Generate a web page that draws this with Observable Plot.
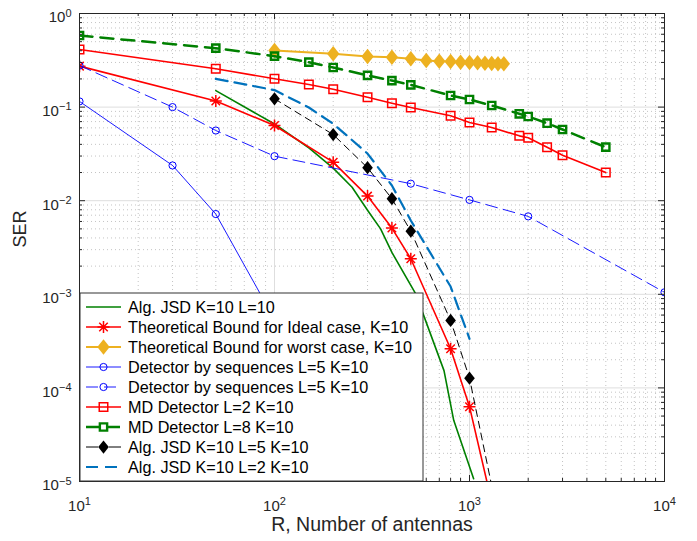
<!DOCTYPE html>
<html>
<head>
<meta charset="utf-8">
<script src="https://cdn.jsdelivr.net/npm/d3@7"></script>
<script src="https://cdn.jsdelivr.net/npm/@observablehq/plot@0.6"></script>
<style>
  body { margin: 0; background: #fff; }
  #chart { width: 697px; height: 541px; }
</style>
</head>
<body>
<div id="chart"></div>
<script>
// ---- Data: SER versus number of antennas R ----
const jsdL10R   = [50, 100, 150, 200, 250, 300, 350, 400, 530, 740, 830, 1050];
const jsdL10Ser = [0.150, 0.066, 0.0366, 0.0223, 0.0139, 0.0079, 0.0050, 0.0028, 0.00101, 1.53e-4, 4.5e-5, 1.07e-5];

const idealR   = [10, 50, 100, 200, 300, 400, 500, 800, 1000, 1300];
const idealSer = [0.274, 0.116, 0.0636, 0.0258, 0.0112, 0.0051, 0.0024, 2.62e-4, 6.3e-5, 6e-6];

const worstR   = [100, 200, 300, 400, 500, 600, 700, 800, 900, 1000, 1100, 1200, 1300, 1400, 1500];
const worstSer = [0.402, 0.371, 0.347, 0.341, 0.328, 0.315, 0.309, 0.307, 0.302, 0.299, 0.297, 0.294, 0.292, 0.291, 0.290];

const seqSolidR   = [10, 30, 50, 100];
const seqSolidSer = [0.115, 0.0238, 0.0072, 5.4e-4];

const seqDashR   = [10, 30, 50, 100, 500, 1000, 2000, 10000];
const seqDashSer = [0.278, 0.100, 0.0562, 0.0299, 0.0152, 0.0102, 0.0068, 0.00105];

const mdR     = [10, 50, 100, 150, 200, 300, 400, 500, 800, 1000, 1300, 1800, 2000, 2500, 3000, 5000];
const mdL2Ser = [0.412, 0.257, 0.201, 0.174, 0.155, 0.1275, 0.110, 0.099, 0.0807, 0.0685, 0.0605, 0.0493, 0.047, 0.0373, 0.0306, 0.0200];
const mdL8Ser = [0.582, 0.426, 0.350, 0.302, 0.265, 0.218, 0.192, 0.173, 0.133, 0.1206, 0.104, 0.0848, 0.0794, 0.0673, 0.0576, 0.0373];

const jsdL5R   = [100, 200, 300, 400, 500, 800, 1000, 1300];
const jsdL5Ser = [0.1227, 0.0509, 0.0225, 0.0105, 0.00472, 5.25e-4, 1.27e-4, 9e-6];

const jsdL2R   = [50, 100, 150, 200, 300, 400, 500, 800, 1000];
const jsdL2Ser = [0.2006, 0.152, 0.099, 0.0663, 0.0319, 0.01453, 0.00614, 0.00121, 3.35e-4];

// Axis ticks
const xMajor = [10, 100, 1000, 10000];
const yMajor = [1e-5, 1e-4, 1e-3, 1e-2, 1e-1, 1];
const minorMult = [2, 3, 4, 5, 6, 7, 8, 9];
const xMinor = xMajor.slice(0, -1).flatMap(d => minorMult.map(k => d * k));
const yMinor = yMajor.slice(0, -1).flatMap(d => minorMult.map(k => d * k));

const xLabel = "R, Number of antennas";
const yLabel = "SER";

// ---- Marker shapes ----
const matDiamond = {
  draw(ctx, size) {
    const r = Math.sqrt(size / Math.PI), w = r, h = r * 1.25;
    ctx.moveTo(0, -h); ctx.lineTo(w, 0); ctx.lineTo(0, h); ctx.lineTo(-w, 0); ctx.closePath();
  }
};
const matAsterisk = {
  draw(ctx, size) {
    const r = Math.sqrt(size / Math.PI), d = r * Math.SQRT1_2;
    ctx.moveTo(-r, 0); ctx.lineTo(r, 0);
    ctx.moveTo(0, -r); ctx.lineTo(0, r);
    ctx.moveTo(-d, -d); ctx.lineTo(d, d);
    ctx.moveTo(-d, d); ctx.lineTo(d, -d);
  }
};

const rows = (R, S) => R.map((r, i) => ({R: r, SER: S[i]}));

const series = [
  {name: "Alg. JSD K=10 L=10", data: rows(jsdL10R, jsdL10Ser), color: "#008000", width: 1.6},
  {name: "Theoretical Bound for Ideal case, K=10", data: rows(idealR, idealSer), color: "#ff0000", width: 1.6,
   symbol: matAsterisk, r: 6, fill: "none", mstroke: "#ff0000", mwidth: 1.5},
  {name: "Theoretical Bound for worst case, K=10", data: rows(worstR, worstSer), color: "#EDB120", width: 2,
   symbol: matDiamond, r: 6.2, fill: "#EDB120", mstroke: "none", mwidth: 0},
  {name: "Detector by sequences L=5 K=10", data: rows(seqSolidR, seqSolidSer), color: "#0000ff", width: 0.9,
   symbol: d3.symbolCircle, r: 3.6, fill: "none", mstroke: "#0000ff", mwidth: 1},
  {name: "Detector by sequences L=5 K=10", data: rows(seqDashR, seqDashSer), color: "#0000ff", width: 0.9, dash: "12,6",
   symbol: d3.symbolCircle, r: 3.6, fill: "none", mstroke: "#0000ff", mwidth: 1},
  {name: "MD Detector L=2 K=10", data: rows(mdR, mdL2Ser), color: "#ff0000", width: 1.6,
   symbol: d3.symbolSquare, r: 4.8, fill: "none", mstroke: "#ff0000", mwidth: 1.5},
  {name: "MD Detector L=8 K=10", data: rows(mdR, mdL8Ser), color: "#008000", width: 2.5, dash: "13,8",
   symbol: d3.symbolSquare, r: 4.1, fill: "none", mstroke: "#008000", mwidth: 2.4},
  {name: "Alg. JSD K=10 L=5 K=10", data: rows(jsdL5R, jsdL5Ser), color: "#000000", width: 1, dash: "7,5", legendDash: "12,11",
   symbol: matDiamond, r: 5.3, fill: "#000000", mstroke: "none", mwidth: 0},
  {name: "Alg. JSD K=10 L=2 K=10", data: rows(jsdL2R, jsdL2Ser), color: "#0072BD", width: 2.2, dash: "12,7"}
];

// ---- Layout ----
const width = 697, height = 541;
const mTop = 13, mBottom = 60, mLeft = 79, mRight = 33;
const frameH = height - mTop - mBottom, frameW = width - mLeft - mRight;
const ink = "#262626";
const font = "'Liberation Sans', Arial, Helvetica, sans-serif";
const fmtPow = d => "10^" + String(Math.round(Math.log10(d))).replace("-", "\u2212");

const marks = [
  // grid
  Plot.ruleX(xMinor, {x: d => d, stroke: "#c4c4c4", strokeDasharray: "1,3"}),
  Plot.ruleY(yMinor, {y: d => d, stroke: "#c4c4c4", strokeDasharray: "1,3"}),
  Plot.ruleX(xMajor, {x: d => d, stroke: "#dedede"}),
  Plot.ruleY(yMajor, {y: d => d, stroke: "#dedede"}),
];

for (const s of series) {
  marks.push(Plot.line(s.data, {
    x: "R", y: "SER", stroke: s.color, strokeWidth: s.width,
    strokeDasharray: s.dash, clip: true
  }));
  if (s.symbol) {
    marks.push(Plot.dot(s.data, {
      x: "R", y: "SER", symbol: s.symbol, r: s.r, fill: s.fill,
      stroke: s.mstroke, strokeWidth: s.mwidth, clip: true,
      filter: d => d.SER >= 1e-5 && d.SER <= 1
    }));
  }
}

marks.push(
  // box and inward ticks on all four sides
  Plot.frame({stroke: ink, strokeWidth: 1}),
  Plot.tickX(xMajor, {x: d => d, insetTop: frameH - 6, stroke: ink}),
  Plot.tickX(xMajor, {x: d => d, insetBottom: frameH - 6, stroke: ink}),
  Plot.tickX(xMinor, {x: d => d, insetTop: frameH - 3, stroke: ink}),
  Plot.tickX(xMinor, {x: d => d, insetBottom: frameH - 3, stroke: ink}),
  Plot.tickY(yMajor, {y: d => d, insetRight: frameW - 6, stroke: ink}),
  Plot.tickY(yMajor, {y: d => d, insetLeft: frameW - 6, stroke: ink}),
  Plot.tickY(yMinor, {y: d => d, insetRight: frameW - 3, stroke: ink}),
  Plot.tickY(yMinor, {y: d => d, insetLeft: frameW - 3, stroke: ink}),
  // tick labels
  Plot.axisX(xMajor, {tickSize: 0, tickPadding: 19, tickFormat: fmtPow, label: null, fontSize: 15, color: ink}),
  Plot.axisY(yMajor, {tickSize: 0, tickPadding: 8, dy: 4, tickFormat: fmtPow, label: null, fontSize: 15, color: ink}),
  // axis titles
  Plot.text([xLabel], {text: d => d, frameAnchor: "bottom", dy: 49, fontSize: 19.5, fill: ink}),
  Plot.text([yLabel], {text: d => d, frameAnchor: "left", dx: -59, rotate: -90, fontSize: 18, fill: ink})
);

const chart = Plot.plot({
  width, height,
  marginTop: mTop, marginBottom: mBottom, marginLeft: mLeft, marginRight: mRight,
  style: {fontFamily: font, fontSize: "15px", background: "#fff", color: ink},
  x: {type: "log", domain: [10, 1e4]},
  y: {type: "log", domain: [1e-5, 1]},
  marks
});

const svg = d3.select(chart.tagName.toLowerCase() === "svg" ? chart : chart.querySelector("svg"));

// Power-of-ten tick labels with superscript exponents
svg.selectAll('g[aria-label="x-axis tick label"] text, g[aria-label="y-axis tick label"] text').each(function () {
  const m = this.textContent.match(/^10\^(.*)$/);
  if (!m) return;
  const t = d3.select(this);
  t.text("10");
  t.append("tspan").attr("dy", "-0.52em").attr("font-size", "11px").text(m[1]);
});

// Legend, boxed in the lower-left corner of the plot area
const L = {x: 80, y: 293, w: 343, h: 188, row0: 307, step: 20, x1: 86, x2: 121, tx: 128};
const lg = svg.append("g").attr("font-family", font).attr("font-size", 16.2).attr("text-anchor", "start");
lg.append("rect").attr("x", L.x).attr("y", L.y).attr("width", L.w).attr("height", L.h)
  .attr("fill", "#fff").attr("stroke", "#333").attr("stroke-width", 1);
series.forEach((s, i) => {
  const cy = L.row0 + i * L.step;
  lg.append("line").attr("x1", L.x1).attr("x2", L.x2).attr("y1", cy).attr("y2", cy)
    .attr("stroke", s.color).attr("stroke-width", s.width)
    .attr("stroke-dasharray", s.legendDash || s.dash || null);
  if (s.symbol) {
    lg.append("path")
      .attr("transform", `translate(${(L.x1 + L.x2) / 2},${cy})`)
      .attr("d", d3.symbol(s.symbol, Math.PI * s.r * s.r)())
      .attr("fill", s.fill).attr("stroke", s.mstroke).attr("stroke-width", s.mwidth);
  }
  lg.append("text").attr("x", L.tx).attr("y", cy).attr("dy", "0.35em")
    .attr("text-anchor", "start").attr("fill", "#000").text(s.name);
});

document.getElementById("chart").append(chart);
</script>
</body>
</html>
